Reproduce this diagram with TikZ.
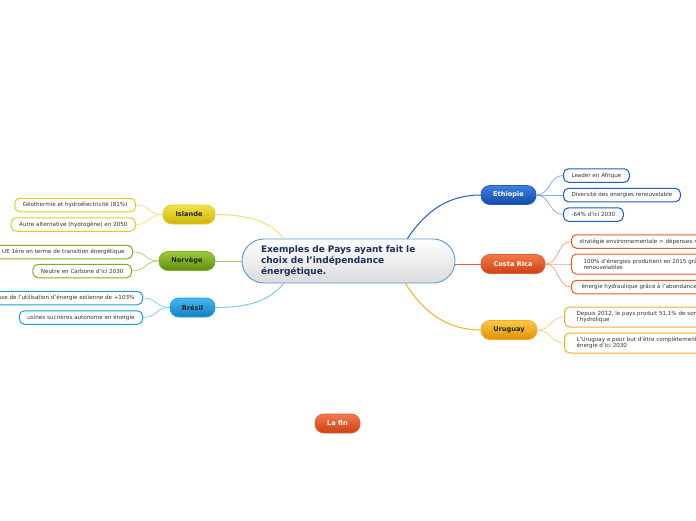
\documentclass[tikz,border=0pt]{standalone}
\usepackage{fontspec}
\setmainfont{DejaVu Sans}
\usetikzlibrary{calc}
\definecolor{ylB}{HTML}{E2CC22}\definecolor{ylT}{HTML}{F2E24A}\definecolor{ylD}{HTML}{CDB40A}\definecolor{ylL}{HTML}{F2E070}
\definecolor{grB}{HTML}{7CB021}\definecolor{grT}{HTML}{9CCB3A}\definecolor{grD}{HTML}{5E8E10}\definecolor{grL}{HTML}{A8D060}
\definecolor{brB}{HTML}{1AA0E0}\definecolor{brT}{HTML}{46B8EE}\definecolor{brD}{HTML}{1080C4}\definecolor{brL}{HTML}{80CCF0}
\definecolor{etB}{HTML}{1C5FD0}\definecolor{etT}{HTML}{3E80E2}\definecolor{etD}{HTML}{1248A8}\definecolor{etL}{HTML}{80A8E8}
\definecolor{crB}{HTML}{E85A2A}\definecolor{crT}{HTML}{F27A4C}\definecolor{crD}{HTML}{CE4012}\definecolor{crL}{HTML}{F0A080}
\definecolor{urB}{HTML}{F5B020}\definecolor{urT}{HTML}{FAC848}\definecolor{urD}{HTML}{E09200}\definecolor{urL}{HTML}{F8D080}
\definecolor{cenB}{HTML}{5A9AD4}\definecolor{cenT}{HTML}{1E2E5A}
\tikzset{
  mainbox/.style n args={3}{draw=#1, line width=0.8pt, top color=#2, bottom color=#3, rounded corners=9pt,
     minimum height=19pt, inner xsep=4pt, font=\fontsize{6.6}{7}\selectfont\bfseries},
  subbox/.style={draw=#1, line width=1pt, fill=white, rounded corners=5pt, minimum height=13.5pt,
     inner xsep=8pt, inner ysep=2.3pt, align=left, font=\fontsize{5.6}{6.4}\selectfont, text=black!80},
  link/.style={draw=#1, line width=1pt},
  sublink/.style={draw=#1, line width=0.7pt},
}
\begin{document}
\begin{tikzpicture}[x=1pt,y=-1pt]
\path[use as bounding box] (0,0) rectangle (696,520);
\clip (0,0) rectangle (696,520);
\fill[white] (0,0) rectangle (696,520);

% central
\node[draw=cenB, line width=0.9pt, top color=white, bottom color=black!14, rounded corners=22pt,
  minimum width=213pt, minimum height=44pt, inner xsep=19pt, text width=175pt, align=left,
  font=\fontsize{9}{11}\selectfont\bfseries, text=cenT] (c) at (348.5,261)
  {Exemples de Pays ayant fait le\\choix de l'indépendance\\énergétique.};

% main nodes
\node[mainbox={ylB}{ylT}{ylD}, minimum width=52pt, text=black!85] (isl) at (189,214.5) {Islande};
\node[mainbox={grB}{grT}{grD}, minimum width=56pt, text=black!85] (nor) at (187,261) {Norvège};
\node[mainbox={brB}{brT}{brD}, minimum width=45pt, text=black!85] (bre) at (192.5,307.5) {Brésil};
\node[mainbox={etB}{etT}{etD}, minimum width=55pt, text=white] (eth) at (508.5,195) {Ethiopie};
\node[mainbox={crB}{crT}{crD}, minimum width=64pt, text=white] (cri) at (513,264) {Costa Rica};
\node[mainbox={urB}{urT}{urD}, minimum width=56pt, text=black!85] (uru) at (509,330) {Uruguay};
\node[mainbox={crB}{crT}{crD}, minimum width=45pt, text=white] (fin) at (337.5,423.5) {La fin};

% central links
\draw[link=ylL] (isl.east) .. controls +(35,0) and +(-12,-16) .. ([xshift=42pt]c.north west);
\draw[link=grL] (nor.east) -- (c.west |- nor.east);
\draw[link=brL] (bre.east) .. controls +(40,0) and +(-12,14) .. ([xshift=42pt]c.south west);
\draw[link=etB] ([xshift=-48pt]c.north east) .. controls +(20,-30) and +(-30,0) .. (eth.west);
\draw[link=crB] (c.east |- cri.west) -- (cri.west);
\draw[link=urB] ([xshift=-50pt]c.south east) .. controls +(20,32) and +(-30,0) .. (uru.west);

% Islande subs
\node[subbox=ylB, anchor=east] (i1) at (136,205) {Géothermie et hydroélectricité (81\%)};
\node[subbox=ylB, anchor=east] (i2) at (136,224.5) {Autre alternative (hydrogène) en 2050};
% Norvege subs
\node[subbox=grB, anchor=east] (n1) at (133,252) {Pays hors UE 1ère en terme de transition énergétique};
\node[subbox=grB, anchor=east] (n2) at (132,271) {Neutre en Carbone d'ici 2030};
% Bresil subs
\node[subbox=brB, anchor=east] (b1) at (143,298) {Hausse de l'utilisation d'énergie eolienne de +103\%};
\node[subbox=brB, anchor=east] (b2) at (143,317.5) {usines sucrières autonome en énergie};
% Ethiopie subs
\node[subbox=etB, anchor=west] (e1) at (563,175.5) {Leader en Afrique};
\node[subbox=etB, anchor=west] (e2) at (563,195) {Diversité des energies renouvelable};
\node[subbox=etB, anchor=west] (e3) at (563,214.5) {-64\% d'ici 2030};
% Costa Rica subs
\node[subbox=crB, anchor=west] (r1) at (571,241.5) {stratégie environnementale > dépenses m};
\node[subbox=crB, anchor=west, minimum height=20pt, inner xsep=12pt] (r2) at (571,264) {100\% d'énergies produitent en 2015 grâ\\renouvelables};
\node[subbox=crB, anchor=west, inner xsep=10pt] (r3) at (571,287) {énergie hydraulique grâce à l'abondance d};
% Uruguay subs
\node[subbox=urB, anchor=west, minimum height=20pt, inner xsep=12pt] (u1) at (564,317) {Depuis 2012, le pays produit 51,1\% de son\\l'hydrolique};
\node[subbox=urB, anchor=west, minimum height=20pt, inner xsep=12pt] (u2) at (564,343) {L'Uruguay a pour but d'être complètement\\énergie d'ici 2030};

% sub links
\foreach \s in {i1,i2}{\draw[sublink=ylL] (isl.west) .. controls +(-14,0) and +(14,0) .. (\s.east);}
\foreach \s in {n1,n2}{\draw[sublink=grL] (nor.west) .. controls +(-14,0) and +(14,0) .. (\s.east);}
\foreach \s in {b1,b2}{\draw[sublink=brL] (bre.west) .. controls +(-14,0) and +(14,0) .. (\s.east);}
\foreach \s in {e1,e2,e3}{\draw[sublink=etL] (eth.east) .. controls +(14,0) and +(-14,0) .. (\s.west);}
\foreach \s in {r1,r2,r3}{\draw[sublink=crL] (cri.east) .. controls +(14,0) and +(-14,0) .. (\s.west);}
\foreach \s in {u1,u2}{\draw[sublink=urL] (uru.east) .. controls +(14,0) and +(-14,0) .. (\s.west);}
\end{tikzpicture}
\end{document}
